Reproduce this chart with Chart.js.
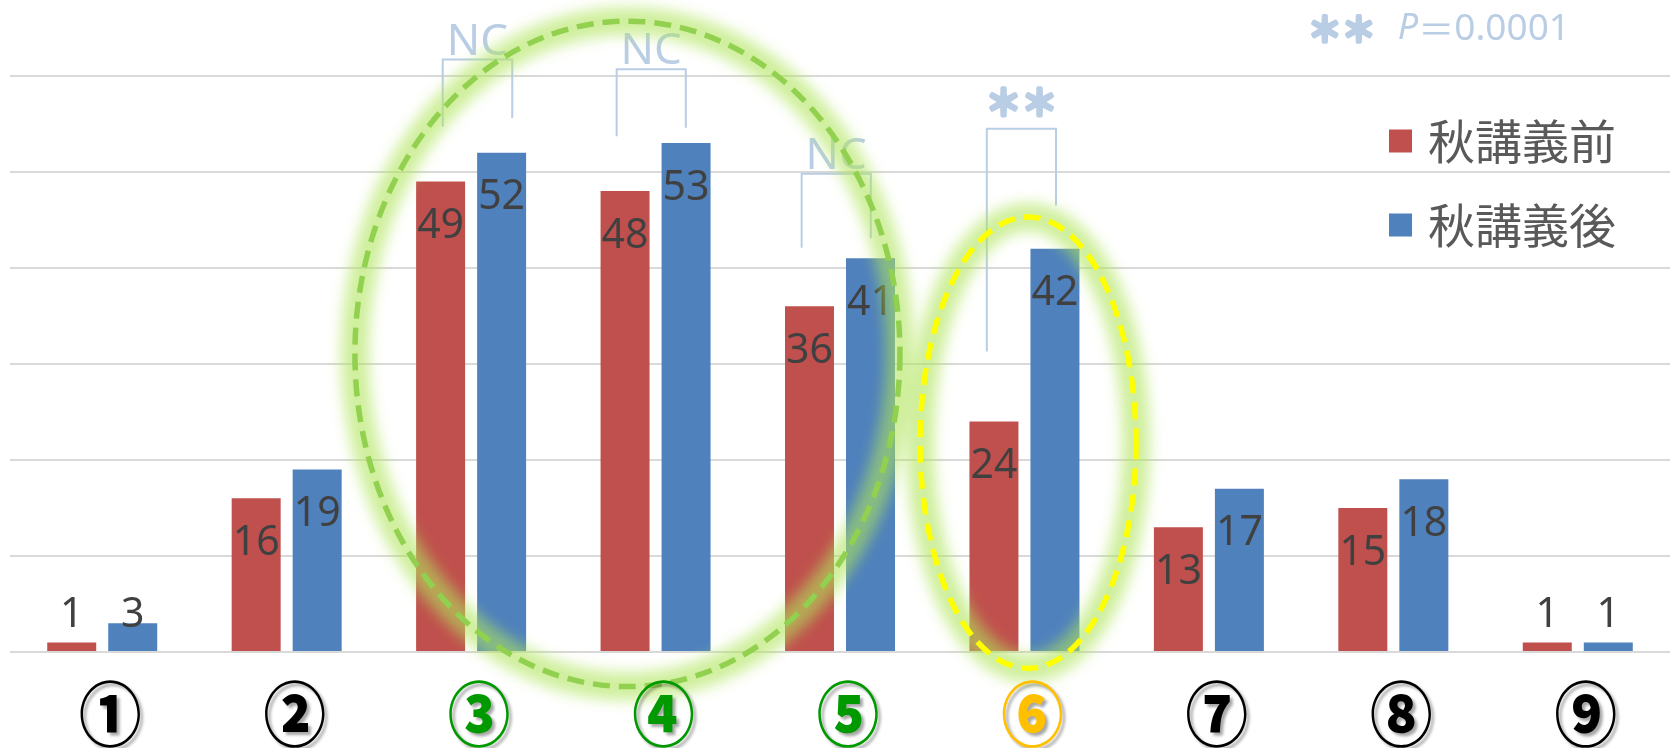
<!DOCTYPE html>
<html>
<head>
<meta charset="utf-8">
<script src="https://cdn.jsdelivr.net/npm/chart.js@4.4.1/dist/chart.umd.min.js"></script>
<style>
  html, body { margin: 0; padding: 0; background: #fff; overflow: hidden; }
  canvas { display: block; }
</style>
</head>
<body>
<canvas id="myBarChart" width="1671" height="748"></canvas>
<script>
  // categories and the two series (before / after)
  var labels = ['①', '②', '③', '④', '⑤', '⑥', '⑦', '⑧', '⑨'];
  var labelColors = ['#000000', '#000000', '#009900', '#009900', '#009900', '#FFC000', '#000000', '#000000', '#000000'];
  var seriesNames = ['秋講義前', '秋講義後'];
  var before = [1, 16, 49, 48, 36, 24, 13, 15, 1];
  var after = [3, 19, 52, 53, 41, 42, 17, 18, 1];

  // significance brackets, in category index / value units
  var brackets = [
    { left: 1.846, right: 2.223, top: 61.7, leftEnd: 54.7, rightEnd: 55.6, text: 'NC' },
    { left: 2.789, right: 3.164, top: 60.7, leftEnd: 53.7, rightEnd: 54.6, text: 'NC' },
    { left: 3.792, right: 4.167, top: 49.8, leftEnd: 42.1, rightEnd: 43.1, text: 'NC' },
    { left: 4.796, right: 5.171, top: 54.5, leftEnd: 31.3, rightEnd: 46.5, text: '＊＊' }
  ];

  // highlight rings, in category index / value units
  var rings = [
    { x0: 1.37, x1: 4.325, y0: -3.6, y1: 65.7, color: '#92D050' },
    { x0: 4.434, x1: 5.605, y0: -1.7, y1: 45.3, color: '#FFFF00' }
  ];

  var noteColor = '#b9cde5';

  // heavy asterisks: fill plus an outline of the same colour
  function boldText(ctx, t, px, py) {
    ctx.lineWidth = 3.5;
    ctx.lineJoin = 'round';
    ctx.strokeText(t, px, py);
    ctx.fillText(t, px, py);
  }

  var decorations = {
    id: 'decorations',
    afterDatasetsDraw: function(chart) {
      var ctx = chart.ctx;
      var x = chart.scales.x, y = chart.scales.y;
      var base = y.getPixelForValue(0);

      // value labels at the inside end of each bar
      ctx.save();
      ctx.fillStyle = '#404040';
      ctx.font = '41px "Noto Sans"';
      ctx.textAlign = 'center';
      ctx.textBaseline = 'middle';
      chart.data.datasets.forEach(function(ds, di) {
        chart.getDatasetMeta(di).data.forEach(function(bar, i) {
          var cy = Math.min(bar.y + 45, base - 37);
          ctx.fillText(String(ds.data[i]), bar.x, cy);
        });
      });
      ctx.restore();

      // brackets
      ctx.save();
      ctx.strokeStyle = noteColor;
      ctx.fillStyle = noteColor;
      ctx.textAlign = 'center';
      ctx.textBaseline = 'alphabetic';
      brackets.forEach(function(b) {
        var xl = x.getPixelForValue(b.left), xr = x.getPixelForValue(b.right);
        var yt = y.getPixelForValue(b.top);
        ctx.lineWidth = 2;
        ctx.beginPath();
        ctx.moveTo(xl, y.getPixelForValue(b.leftEnd));
        ctx.lineTo(xl, yt);
        ctx.lineTo(xr, yt);
        ctx.lineTo(xr, y.getPixelForValue(b.rightEnd));
        ctx.stroke();
        if (b.text === 'NC') {
          ctx.font = '44px "Noto Sans"';
          ctx.fillText(b.text, (xl + xr) / 2, yt - 5);
        } else {
          ctx.font = 'bold 36px "Noto Sans CJK JP"';
          boldText(ctx, b.text, (xl + xr) / 2, yt - 13);
        }
      });
      ctx.restore();

      // dashed rings with a soft green glow
      rings.forEach(function(r) {
        var px0 = x.getPixelForValue(r.x0), px1 = x.getPixelForValue(r.x1);
        var py0 = y.getPixelForValue(r.y0), py1 = y.getPixelForValue(r.y1);
        var cx = (px0 + px1) / 2, cy = (py0 + py1) / 2;
        var rx = Math.abs(px1 - px0) / 2, ry = Math.abs(py0 - py1) / 2;
        ctx.save();
        ctx.filter = 'blur(7px)';
        ctx.strokeStyle = 'rgba(175, 228, 90, 0.6)';
        ctx.lineWidth = 28;
        ctx.beginPath();
        ctx.ellipse(cx, cy, rx, ry, 0, 0, Math.PI * 2);
        ctx.stroke();
        ctx.restore();
        ctx.save();
        ctx.strokeStyle = r.color;
        ctx.lineWidth = 5.5;
        ctx.setLineDash([17, 9]);
        ctx.beginPath();
        ctx.ellipse(cx, cy, rx, ry, 0, 0, Math.PI * 2);
        ctx.stroke();
        ctx.restore();
      });
    },
    afterDraw: function(chart) {
      var ctx = chart.ctx;
      var x = chart.scales.x;

      // circled category labels under the axis
      ctx.save();
      ctx.font = '900 68px "Noto Sans CJK JP"';
      ctx.textAlign = 'center';
      ctx.textBaseline = 'middle';
      chart.data.labels.forEach(function(lab, i) {
        var px = x.getPixelForTick(i) + 8;
        ctx.save();
        ctx.translate(px, 714);
        ctx.scale(0.92, 1.04);
        ctx.shadowColor = 'rgba(0,0,0,0.35)';
        ctx.shadowBlur = 3;
        ctx.shadowOffsetX = 3;
        ctx.shadowOffsetY = 3;
        ctx.fillStyle = labelColors[i];
        ctx.fillText(lab, 0, 0);
        ctx.restore();
      });
      ctx.restore();

      // legend on the right, over the plot
      ctx.save();
      ctx.font = '47px "Noto Sans CJK JP"';
      ctx.textAlign = 'left';
      ctx.textBaseline = 'middle';
      chart.data.datasets.forEach(function(ds, i) {
        var cy = 141 + i * 84;
        ctx.fillStyle = ds.backgroundColor;
        ctx.fillRect(1389, cy - 11.5, 23, 23);
        ctx.fillStyle = '#595959';
        ctx.fillText(ds.label, 1428, cy);
      });
      ctx.restore();

      // p-value note, right aligned
      ctx.save();
      ctx.fillStyle = noteColor;
      ctx.strokeStyle = noteColor;
      ctx.textBaseline = 'middle';
      var parts = [
        { t: '＊＊', f: 'bold 34px "Noto Sans CJK JP"', gap: 22, heavy: true },
        { t: 'P', f: 'italic 36px "Noto Sans"', gap: 0 },
        { t: '＝', f: '36px "Noto Sans CJK JP"', gap: 0 },
        { t: '0.0001', f: '37px "Noto Sans"', gap: 0 }
      ];
      var total = 0;
      parts.forEach(function(p) { ctx.font = p.f; p.w = ctx.measureText(p.t).width; total += p.w + p.gap; });
      var cx = 1570 - total;
      parts.forEach(function(p) {
        ctx.font = p.f;
        if (p.heavy) boldText(ctx, p.t, cx, 29);
        else ctx.fillText(p.t, cx, 29);
        cx += p.w + p.gap;
      });
      ctx.restore();
    }
  };

  var data = {
    labels: labels,
    datasets: [
      { label: seriesNames[0], data: before, backgroundColor: '#C0504D' },
      { label: seriesNames[1], data: after, backgroundColor: '#4F81BD' }
    ]
  };

  var options = {
    responsive: false,
    animation: false,
    devicePixelRatio: 1,
    layout: { padding: { left: 10, right: 1, top: 0, bottom: 96 } },
    datasets: {
      bar: { categoryPercentage: 0.6615, barPercentage: 0.803 }
    },
    plugins: {
      legend: { display: false },
      title: { display: false },
      tooltip: { enabled: false }
    },
    scales: {
      x: { display: false },
      y: {
        min: 0,
        max: 67.9,
        border: { display: false },
        ticks: { display: false, stepSize: 10, includeBounds: false },
        grid: { color: '#d9d9d9', lineWidth: 2, drawTicks: false }
      }
    }
  };

  var ctx = document.getElementById('myBarChart').getContext('2d');
  var myBarChart = new Chart(ctx, {
    type: 'bar',
    data: data,
    options: options,
    plugins: [decorations]
  });
</script>
</body>
</html>
